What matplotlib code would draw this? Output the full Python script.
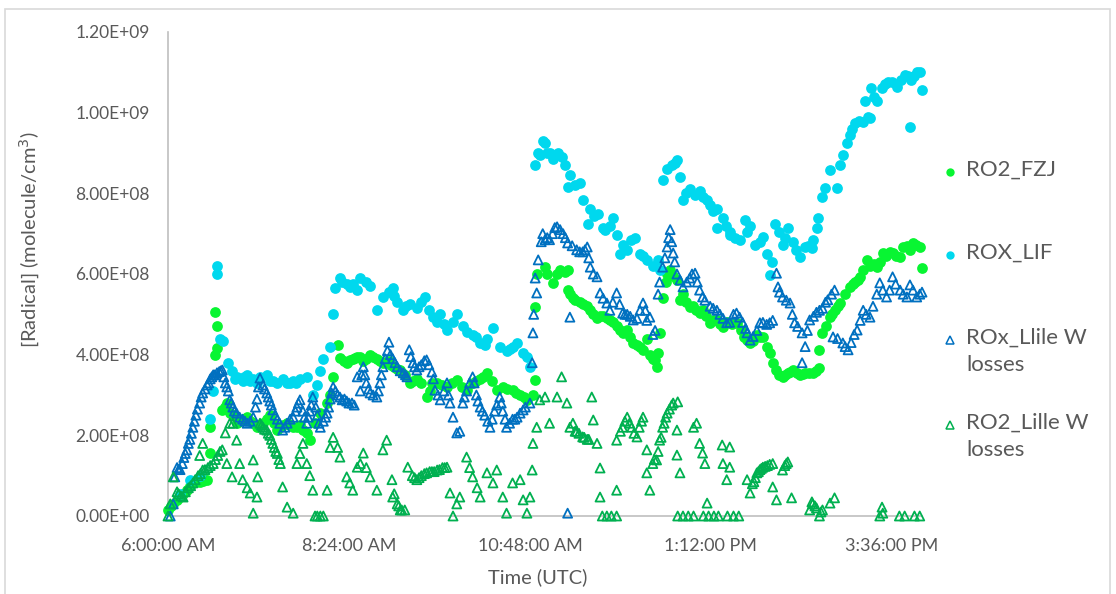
import numpy as np
import matplotlib.pyplot as plt
from matplotlib.lines import Line2D
from matplotlib.patches import Rectangle

plt.rcParams['font.family'] = ['Lato', 'DejaVu Sans']

# (time in decimal hours UTC, value in 1e8 molecule/cm3)
ro2_fzj = [
    (6.00, 0.15), (6.04, 0.25), (6.07, 0.30), (6.12, 0.40), (6.16, 0.47), (6.20, 0.55),
    (6.25, 0.65), (6.29, 0.75), (6.33, 0.82), (6.37, 0.85), (6.42, 0.85), (6.47, 0.88),
    (6.52, 0.90), (6.56, 1.56), (6.56, 2.20), (6.62, 5.06), (6.65, 4.70), (6.65, 4.17),
    (6.62, 4.00), (6.72, 2.63), (6.75, 2.70), (6.78, 2.80), (6.82, 2.55), (6.86, 2.50),
    (6.91, 2.30), (6.95, 2.35), (6.99, 2.40), (7.02, 2.40), (7.05, 2.45), (7.09, 2.35),
    (7.13, 2.30), (7.18, 2.20), (7.22, 2.25), (7.26, 2.30), (7.31, 2.40), (7.35, 2.50),
    (7.41, 2.30), (7.45, 2.13), (7.49, 2.20), (7.52, 2.25), (7.58, 2.30), (7.62, 2.25),
    (7.66, 2.20), (7.71, 2.20), (7.75, 2.25), (7.79, 2.13), (7.84, 2.05), (7.88, 1.88),
    (7.95, 2.30), (8.02, 2.55), (8.11, 2.80), (8.15, 3.00), (8.19, 3.45), (8.25, 4.24),
    (8.28, 3.92), (8.33, 3.85), (8.37, 3.80), (8.41, 3.88), (8.45, 3.90), (8.48, 3.92),
    (8.51, 3.94), (8.55, 3.95), (8.59, 3.85), (8.63, 3.90), (8.68, 4.00), (8.72, 3.95),
    (8.77, 3.90), (8.81, 3.85), (8.85, 3.80), (8.89, 3.82), (8.93, 3.85), (8.96, 3.75),
    (9.00, 3.70), (9.04, 3.65), (9.08, 3.62), (9.11, 3.55), (9.14, 3.50), (9.21, 3.30),
    (9.25, 3.35), (9.30, 3.40), (9.36, 3.30), (9.43, 2.95), (9.47, 3.10), (9.50, 3.30),
    (9.57, 3.30), (9.63, 3.25), (9.70, 3.20), (9.77, 3.30), (9.83, 3.37), (9.90, 3.20),
    (9.96, 3.12), (10.04, 3.30), (10.09, 3.35), (10.14, 3.40), (10.18, 3.45), (10.23, 3.55),
    (10.30, 3.35), (10.36, 3.12), (10.44, 3.20), (10.50, 3.15), (10.57, 3.12), (10.62, 3.05),
    (10.67, 3.00), (10.72, 2.95), (10.76, 2.88), (10.84, 3.00), (10.87, 3.37), (10.87, 5.18),
    (10.89, 6.00), (11.00, 6.17), (11.03, 6.00), (11.10, 5.78), (11.16, 6.00), (11.20, 6.10),
    (11.26, 6.05), (11.30, 6.10), (11.30, 5.60), (11.33, 5.50), (11.37, 5.40), (11.40, 5.35),
    (11.46, 5.30), (11.50, 5.25), (11.56, 5.20), (11.60, 5.10), (11.64, 5.00), (11.69, 4.90),
    (11.73, 4.95), (11.77, 4.95), (11.82, 4.90), (11.86, 4.86), (11.90, 4.80), (11.95, 4.70),
    (11.99, 4.60), (12.03, 4.54), (12.06, 4.55), (12.09, 4.60), (12.13, 4.45), (12.17, 4.30),
    (12.22, 4.25), (12.26, 4.20), (12.30, 4.12), (12.35, 4.40), (12.39, 4.00), (12.43, 3.90),
    (12.48, 3.70), (12.46, 3.87), (12.50, 4.04), (12.52, 4.54), (12.56, 5.40), (12.60, 5.80),
    (12.62, 6.00), (12.66, 6.10), (12.70, 5.95), (12.75, 5.85), (12.79, 5.36), (12.83, 5.50),
    (12.87, 5.30), (12.92, 5.18), (12.96, 5.20), (13.00, 5.10), (13.05, 5.03), (13.09, 5.10),
    (13.14, 4.95), (13.19, 4.79), (13.24, 4.85), (13.28, 4.85), (13.32, 4.75), (13.36, 4.69),
    (13.41, 4.80), (13.48, 4.75), (13.54, 4.79), (13.60, 4.60), (13.64, 4.45), (13.68, 4.36),
    (13.72, 4.29), (13.76, 4.35), (13.81, 4.50), (13.85, 4.45), (13.89, 4.44), (13.94, 4.20),
    (13.98, 4.04), (14.02, 3.80), (14.07, 3.62), (14.11, 3.50), (14.15, 3.45), (14.18, 3.50),
    (14.22, 3.55), (14.25, 3.58), (14.29, 3.62), (14.34, 3.55), (14.38, 3.50), (14.42, 3.52),
    (14.45, 3.55), (14.50, 3.55), (14.55, 3.55), (14.60, 3.60), (14.64, 3.67), (14.64, 4.12),
    (14.68, 4.54), (14.73, 4.70), (14.78, 4.93), (14.81, 5.00), (14.84, 5.10), (14.88, 5.20),
    (14.91, 5.28), (14.98, 5.50), (15.04, 5.68), (15.08, 5.75), (15.11, 5.80), (15.15, 5.85),
    (15.18, 5.93), (15.22, 6.10), (15.27, 6.35), (15.31, 6.20), (15.36, 6.25), (15.40, 6.17),
    (15.44, 6.30), (15.48, 6.52), (15.52, 6.45), (15.57, 6.55), (15.61, 6.52), (15.66, 6.45),
    (15.71, 6.42), (15.75, 6.67), (15.80, 6.70), (15.84, 6.60), (15.88, 6.77), (15.92, 6.72),
    (15.97, 6.67), (16.00, 6.15),
]

rox_lif = [
    (6.16, 0.55), (6.29, 0.90), (6.42, 1.00), (6.56, 2.40), (6.60, 3.10), (6.65, 6.20),
    (6.65, 6.00), (6.69, 4.40), (6.73, 4.35), (6.80, 3.80), (6.85, 3.60), (6.89, 3.40),
    (6.91, 3.45), (6.99, 3.35), (7.01, 3.45), (7.05, 3.50), (7.09, 3.35), (7.13, 3.40),
    (7.18, 3.30), (7.22, 3.45), (7.31, 3.50), (7.35, 3.35), (7.39, 3.35), (7.45, 3.30),
    (7.52, 3.40), (7.58, 3.30), (7.62, 3.30), (7.66, 3.35), (7.70, 3.30), (7.75, 3.40),
    (7.84, 3.45), (7.92, 3.00), (7.98, 3.25), (8.02, 3.60), (8.06, 3.90), (8.15, 4.20),
    (8.19, 5.00), (8.21, 5.65), (8.28, 5.90), (8.31, 5.80), (8.37, 5.75), (8.41, 5.68),
    (8.45, 5.75), (8.51, 5.60), (8.55, 5.90), (8.62, 5.80), (8.68, 5.70), (8.77, 5.10),
    (8.85, 5.43), (8.93, 5.55), (8.98, 5.65), (9.00, 5.45), (9.04, 5.30), (9.12, 5.10),
    (9.16, 5.20), (9.21, 5.25), (9.30, 5.15), (9.36, 5.30), (9.41, 5.43), (9.46, 5.10),
    (9.51, 4.93), (9.57, 4.80), (9.61, 5.00), (9.66, 4.75), (9.70, 4.60), (9.78, 4.80),
    (9.83, 5.00), (9.91, 4.70), (9.96, 4.56), (10.04, 4.50), (10.09, 4.45), (10.14, 4.30),
    (10.20, 4.25), (10.23, 4.40), (10.31, 4.66), (10.40, 4.20), (10.49, 4.10), (10.53, 4.15),
    (10.57, 4.20), (10.63, 4.30), (10.71, 4.05), (10.76, 3.95), (10.80, 3.70),
    (10.87, 8.70), (10.91, 9.00), (10.93, 8.95), (10.97, 9.30), (11.00, 9.25), (11.03, 9.00),
    (11.06, 9.00), (11.10, 8.85), (11.17, 9.00), (11.22, 8.90), (11.26, 8.70), (11.33, 8.45),
    (11.30, 8.15), (11.40, 8.20), (11.46, 8.25), (11.50, 7.83), (11.57, 7.25), (11.60, 7.60),
    (11.65, 7.45), (11.70, 7.50), (11.77, 7.15), (11.80, 7.10), (11.86, 7.20), (11.90, 7.40),
    (11.95, 6.97), (11.99, 6.50), (12.03, 6.72), (12.09, 6.60), (12.14, 6.85), (12.19, 6.90),
    (12.26, 6.50), (12.30, 6.45), (12.35, 6.35), (12.43, 6.20), (12.50, 6.35), (12.52, 6.10),
    (12.56, 8.33), (12.62, 8.60), (12.68, 8.70), (12.72, 8.75), (12.75, 8.83), (12.79, 8.40),
    (12.83, 7.83), (12.87, 8.00), (12.92, 8.10), (12.99, 7.95), (13.05, 8.05), (13.10, 7.90),
    (13.15, 7.83), (13.19, 7.70), (13.23, 7.55), (13.28, 7.60), (13.28, 7.15), (13.36, 7.40),
    (13.40, 7.20), (13.45, 6.97), (13.45, 7.05), (13.52, 6.90), (13.58, 6.85), (13.65, 7.35),
    (13.68, 7.05), (13.72, 7.20), (13.78, 6.72), (13.85, 6.80), (13.89, 6.92), (13.94, 6.50),
    (13.98, 5.98), (14.01, 6.30), (14.05, 7.25), (14.11, 7.05), (14.15, 6.72), (14.18, 6.90),
    (14.22, 7.15), (14.29, 6.80), (14.33, 6.60), (14.38, 6.42), (14.45, 6.67), (14.49, 6.70),
    (14.54, 6.65), (14.55, 6.85), (14.61, 7.15), (14.62, 7.40), (14.68, 7.90), (14.71, 8.13),
    (14.78, 8.58), (14.87, 8.13), (14.91, 8.70), (14.95, 8.95), (15.00, 9.25), (15.04, 9.45),
    (15.07, 9.60), (15.11, 9.75), (15.16, 9.80), (15.22, 9.77), (15.28, 9.90), (15.31, 9.87),
    (15.24, 10.30), (15.33, 10.60), (15.36, 10.40), (15.40, 10.30), (15.47, 10.60), (15.51, 10.70),
    (15.55, 10.76), (15.60, 10.75), (15.67, 10.64), (15.72, 10.80), (15.77, 10.93), (15.81, 10.90),
    (15.86, 10.80), (15.84, 9.65), (15.90, 10.90), (15.94, 11.00), (15.97, 11.00), (16.00, 10.56),
]

rox_lille = [
    (6.03, 0.00), (6.07, 0.30), (6.09, 0.97), (6.12, 1.20), (6.14, 1.15), (6.16, 1.15),
    (6.19, 1.30), (6.21, 1.45), (6.23, 1.55), (6.25, 1.64), (6.27, 1.80), (6.29, 1.90),
    (6.31, 2.05), (6.33, 2.20), (6.35, 2.35), (6.37, 2.50), (6.39, 2.65), (6.42, 2.80),
    (6.44, 2.95), (6.46, 3.05), (6.49, 3.15), (6.52, 3.25), (6.54, 3.30), (6.56, 3.40),
    (6.58, 3.45), (6.60, 3.50), (6.62, 3.50), (6.65, 3.55), (6.68, 3.58), (6.70, 3.60),
    (6.72, 3.62), (6.74, 3.45), (6.76, 3.30), (6.78, 3.20), (6.80, 3.10), (6.82, 2.88),
    (6.84, 2.80), (6.86, 2.70), (6.88, 2.60), (6.91, 2.55), (6.95, 2.45), (6.99, 2.40),
    (7.02, 2.35), (7.05, 2.30), (7.09, 2.35), (7.13, 2.45), (7.16, 2.70), (7.18, 2.90),
    (7.20, 3.20), (7.22, 3.42), (7.26, 3.25), (7.28, 3.15), (7.31, 3.05), (7.33, 2.95),
    (7.35, 2.85), (7.37, 2.75), (7.39, 2.63), (7.42, 2.50), (7.45, 2.40), (7.48, 2.30),
    (7.52, 2.13), (7.55, 2.20), (7.58, 2.30), (7.62, 2.40), (7.66, 2.45), (7.69, 2.60),
    (7.71, 2.70), (7.73, 2.80), (7.75, 2.88), (7.79, 2.60), (7.81, 2.45), (7.84, 2.30),
    (7.86, 2.45), (7.88, 2.60), (7.90, 2.75), (7.92, 2.95), (7.96, 2.70), (7.98, 2.50),
    (8.00, 2.30), (8.02, 2.20), (8.06, 2.35), (8.09, 2.45), (8.11, 2.55), (8.13, 2.70),
    (8.15, 2.90), (8.17, 3.05), (8.19, 3.20), (8.22, 3.10), (8.25, 3.00), (8.28, 2.95),
    (8.31, 2.88), (8.34, 2.90), (8.37, 2.85), (8.40, 2.80), (8.44, 2.80), (8.47, 2.75),
    (8.51, 3.45), (8.55, 3.10), (8.57, 3.50), (8.59, 3.70), (8.61, 3.50), (8.63, 3.30),
    (8.66, 3.15), (8.68, 3.05), (8.72, 3.00), (8.77, 2.95), (8.79, 3.10), (8.81, 3.30),
    (8.83, 3.50), (8.85, 3.70), (8.88, 3.90), (8.91, 4.10), (8.93, 4.31), (8.95, 4.00),
    (8.98, 3.90), (9.01, 3.80), (9.04, 3.70), (9.08, 3.60), (9.12, 3.55), (9.15, 3.50),
    (9.17, 3.45), (9.20, 4.12), (9.22, 3.95), (9.25, 3.80), (9.27, 3.70), (9.30, 3.62),
    (9.33, 3.70), (9.36, 3.75), (9.40, 3.85), (9.43, 3.87), (9.46, 3.75), (9.50, 3.57),
    (9.52, 3.40), (9.54, 3.12), (9.58, 3.00), (9.61, 2.88), (9.66, 3.10), (9.70, 3.30),
    (9.72, 3.00), (9.74, 2.80), (9.78, 2.45), (9.83, 2.06), (9.87, 2.10), (9.91, 2.80),
    (9.93, 2.95), (9.96, 3.10), (10.00, 3.30), (10.04, 3.45), (10.06, 3.30), (10.09, 3.00),
    (10.11, 2.85), (10.14, 2.70), (10.17, 2.60), (10.20, 2.50), (10.24, 2.35), (10.27, 2.20),
    (10.30, 2.40), (10.33, 2.60), (10.36, 2.75), (10.40, 2.95), (10.42, 2.80), (10.44, 2.60),
    (10.47, 2.40), (10.49, 2.20), (10.53, 2.30), (10.57, 2.40), (10.60, 2.40), (10.63, 2.45),
    (10.67, 2.55), (10.71, 2.63), (10.74, 2.70), (10.80, 2.80), (10.83, 3.80), (10.84, 4.54),
    (10.85, 5.00), (10.87, 5.90), (10.89, 5.53), (10.91, 6.35), (10.95, 6.80), (10.97, 7.00),
    (11.00, 6.85), (11.03, 6.90), (11.06, 6.85), (11.10, 7.00), (11.13, 7.15), (11.16, 7.17),
    (11.20, 7.10), (11.24, 7.00), (11.27, 6.90), (11.30, 6.77), (11.33, 4.93), (11.30, 0.07),
    (11.36, 6.70), (11.42, 6.60), (11.46, 6.55), (11.50, 6.55), (11.53, 6.60), (11.56, 6.67),
    (11.58, 6.40), (11.60, 6.17), (11.64, 6.00), (11.69, 5.93), (11.73, 5.53), (11.77, 5.40),
    (11.82, 5.28), (11.86, 5.10), (11.90, 5.30), (11.95, 5.53), (11.99, 5.25), (12.03, 5.03),
    (12.06, 5.00), (12.09, 5.00), (12.13, 4.95), (12.17, 4.86), (12.22, 4.90), (12.26, 5.10),
    (12.30, 5.28), (12.33, 5.10), (12.35, 4.85), (12.39, 4.93), (12.43, 4.50), (12.46, 4.60),
    (12.50, 5.50), (12.52, 5.80), (12.56, 6.17), (12.59, 6.40), (12.62, 6.67), (12.64, 6.90),
    (12.66, 7.10), (12.68, 6.80), (12.70, 6.52), (12.72, 6.30), (12.75, 6.00), (12.79, 5.85),
    (12.83, 5.68), (12.88, 5.80), (12.92, 5.90), (12.95, 6.00), (12.99, 6.02), (13.02, 5.80),
    (13.05, 5.60), (13.09, 5.43), (13.12, 5.35), (13.19, 5.20), (13.23, 5.15), (13.28, 5.10),
    (13.32, 5.00), (13.36, 4.90), (13.41, 4.79), (13.45, 4.80), (13.50, 5.00), (13.54, 5.03),
    (13.58, 4.93), (13.62, 4.80), (13.66, 4.65), (13.68, 4.54), (13.72, 4.36), (13.76, 4.45),
    (13.81, 4.60), (13.85, 4.79), (13.89, 4.80), (13.94, 4.75), (13.98, 4.79), (14.02, 4.85),
    (14.07, 6.02), (14.09, 5.68), (14.11, 5.55), (14.15, 5.43), (14.20, 5.35), (14.25, 5.28),
    (14.28, 5.00), (14.31, 4.79), (14.35, 4.70), (14.41, 4.54), (14.41, 3.80), (14.45, 4.20),
    (14.48, 4.60), (14.51, 4.86), (14.56, 4.95), (14.60, 5.05), (14.64, 5.10), (14.68, 5.15),
    (14.72, 5.30), (14.75, 5.36), (14.80, 5.50), (14.84, 5.60), (14.82, 4.44), (14.88, 4.40),
    (14.95, 4.29), (14.98, 4.20), (15.02, 4.12), (15.06, 4.30), (15.10, 4.50), (15.14, 4.61),
    (15.18, 4.85), (15.22, 5.10), (15.26, 5.00), (15.31, 4.93), (15.35, 5.20), (15.40, 5.50),
    (15.44, 5.78), (15.48, 5.60), (15.53, 5.43), (15.57, 5.60), (15.61, 5.93), (15.65, 5.75),
    (15.71, 5.60), (15.75, 5.50), (15.80, 5.43), (15.84, 5.73), (15.88, 5.60), (15.93, 5.43),
    (15.97, 5.50), (16.00, 5.55),
]

ro2_lille = [
    (6.00, 0.00), (6.03, 0.30), (6.07, 0.97), (6.12, 0.60), (6.14, 0.55), (6.17, 0.50),
    (6.20, 0.47), (6.23, 0.60), (6.27, 0.70), (6.30, 0.75), (6.33, 0.82), (6.36, 0.90),
    (6.40, 1.00), (6.43, 1.05), (6.46, 1.14), (6.46, 1.80), (6.42, 1.50), (6.49, 1.15),
    (6.53, 1.20), (6.56, 1.25), (6.60, 1.30), (6.63, 1.40), (6.66, 1.50), (6.69, 1.60),
    (6.72, 1.64), (6.76, 2.06), (6.82, 2.30), (6.86, 2.30), (6.91, 1.88), (6.95, 1.30),
    (6.78, 1.30), (6.85, 0.97), (6.99, 0.90), (7.05, 0.70), (7.09, 0.57), (7.13, 0.07),
    (7.13, 1.39), (7.18, 0.47), (7.19, 0.97), (7.22, 2.30), (7.24, 2.25), (7.26, 2.20),
    (7.28, 2.15), (7.31, 2.13), (7.33, 2.05), (7.35, 2.00), (7.37, 1.90), (7.39, 1.80),
    (7.41, 1.70), (7.43, 1.60), (7.45, 1.55), (7.47, 1.40), (7.49, 1.30), (7.52, 0.72),
    (7.58, 0.22), (7.66, 0.07), (7.71, 1.30), (7.75, 1.55), (7.79, 1.80), (7.84, 1.30),
    (7.88, 1.00), (7.92, 0.64), (7.95, 0.00), (7.98, 0.00), (8.02, 0.00), (8.06, 0.00),
    (8.11, 0.64), (8.15, 1.70), (8.19, 1.95), (8.25, 1.70), (8.28, 1.46), (8.37, 0.97),
    (8.41, 0.82), (8.45, 0.64), (8.51, 1.21), (8.55, 1.30), (8.59, 1.56), (8.63, 1.20),
    (8.68, 0.97), (8.77, 0.64), (8.85, 1.64), (8.90, 1.88), (8.97, 0.90), (8.98, 0.47),
    (9.00, 0.55), (9.04, 0.30), (9.06, 0.25), (9.08, 0.15), (9.10, 0.15), (9.14, 0.15),
    (9.18, 1.21), (9.24, 1.00), (9.27, 0.95), (9.30, 0.90), (9.33, 0.95), (9.36, 1.00),
    (9.40, 1.05), (9.43, 1.07), (9.47, 1.10), (9.50, 1.10), (9.53, 1.10), (9.57, 1.14),
    (9.60, 1.15), (9.64, 1.20), (9.67, 1.20), (9.70, 1.21), (9.74, 0.57), (9.78, 0.00),
    (9.83, 0.30), (9.87, 0.47), (9.96, 1.46), (10.00, 1.20), (10.04, 0.97), (10.10, 0.70),
    (10.14, 0.47), (10.23, 1.07), (10.31, 0.82), (10.36, 1.14), (10.44, 0.47), (10.49, 0.07),
    (10.57, 0.82), (10.67, 0.90), (10.71, 0.40), (10.76, 0.07), (10.80, 0.47), (10.83, 1.14),
    (10.84, 1.80), (10.89, 2.20), (10.93, 2.88), (11.00, 2.95), (11.06, 2.30), (11.16, 2.95),
    (11.22, 3.45), (11.29, 2.80), (11.33, 2.20), (11.37, 2.30), (11.40, 2.10), (11.42, 2.10),
    (11.45, 2.05), (11.50, 1.96), (11.52, 1.95), (11.56, 1.90), (11.58, 1.90), (11.62, 2.95),
    (11.64, 2.38), (11.69, 1.80), (11.73, 1.19), (11.73, 0.47), (11.76, 0.00), (11.82, 0.00),
    (11.88, 0.00), (11.95, 0.00), (11.95, 0.64), (11.95, 1.88), (12.00, 2.10), (12.03, 2.20),
    (12.06, 2.35), (12.09, 2.45), (12.12, 2.30), (12.15, 2.20), (12.18, 2.05), (12.22, 1.96),
    (12.25, 2.20), (12.28, 2.35), (12.30, 2.45), (12.35, 1.64), (12.35, 1.07), (12.39, 0.64),
    (12.43, 1.30), (12.45, 1.40), (12.48, 1.39), (12.50, 1.60), (12.52, 1.88), (12.54, 1.95),
    (12.56, 2.20), (12.58, 2.30), (12.60, 2.45), (12.62, 2.55), (12.65, 2.65), (12.68, 2.75),
    (12.70, 2.80), (12.75, 2.13), (12.76, 2.83), (12.75, 1.51), (12.79, 1.07), (12.76, 0.00),
    (12.83, 0.00), (12.90, 0.00), (12.97, 0.00), (12.97, 2.20), (13.01, 2.30), (13.05, 1.80),
    (13.09, 1.56), (13.12, 1.30), (13.15, 0.32), (13.10, 0.00), (13.17, 0.00), (13.24, 0.00),
    (13.30, 0.00), (13.35, 1.76), (13.36, 1.30), (13.41, 0.90), (13.45, 1.71), (13.45, 1.21),
    (13.42, 0.00), (13.50, 0.00), (13.57, 0.00), (13.68, 0.90), (13.72, 0.57), (13.75, 0.80),
    (13.77, 0.85), (13.79, 0.95), (13.81, 1.07), (13.83, 1.10), (13.85, 1.15), (13.87, 1.18),
    (13.89, 1.21), (13.92, 1.23), (13.95, 1.25), (13.98, 1.28), (14.02, 1.30), (14.02, 0.72),
    (14.07, 0.40), (14.15, 1.14), (14.18, 1.25), (14.20, 1.30), (14.22, 1.34), (14.27, 0.45),
    (14.51, 0.15), (14.54, 0.35), (14.55, 0.30), (14.58, 0.25), (14.60, 0.20), (14.64, 0.00),
    (14.66, 0.10), (14.68, 0.15), (14.78, 0.32), (14.84, 0.45), (15.47, 0.22), (15.48, 0.07),
    (15.44, 0.00), (15.70, 0.00), (15.77, 0.00), (15.90, 0.00), (15.97, 0.00),
]

x_ticks = [6.0, 8.4, 10.8, 13.2, 15.6]
x_labels = ['6:00:00 AM', '8:24:00 AM', '10:48:00 AM', '1:12:00 PM', '3:36:00 PM']
y_ticks = [0, 2e8, 4e8, 6e8, 8e8, 1e9, 1.2e9]
y_labels = ['0.00E+00', '2.00E+08', '4.00E+08', '6.00E+08', '8.00E+08', '1.00E+09', '1.20E+09']

series = [
    ('RO2_FZJ', ro2_fzj, 'o', '#08F532', True),
    ('ROX_LIF', rox_lif, 'o', '#00D8EE', True),
    ('ROx_Llile W\nlosses', rox_lille, '^', '#0070C0', False),
    ('RO2_Lille W\nlosses', ro2_lille, '^', '#00B050', False),
]

grey = '#595959'
fig = plt.figure(figsize=(11.16, 5.94), dpi=100)
ax = fig.add_axes([168 / 1116, 1 - 516 / 594, 754 / 1116, 484 / 594])

for name, data, mk, col, filled in series:
    d = np.array(data)
    if filled:
        ax.scatter(d[:, 0], d[:, 1] * 1e8, s=60, marker=mk, color=col,
                   linewidths=0, clip_on=False, zorder=3)
    else:
        ax.scatter(d[:, 0], d[:, 1] * 1e8, s=42, marker=mk, facecolors='none',
                   edgecolors=col, linewidths=1.3, clip_on=False, zorder=3)

ax.set_xlim(6.0, 16.0)
ax.set_ylim(0, 1.2e9)
ax.set_xticks(x_ticks)
ax.set_xticklabels(x_labels)
ax.set_yticks(y_ticks)
ax.set_yticklabels(y_labels)
ax.tick_params(length=0, labelsize=12.5, colors=grey)
ax.tick_params(axis='x', pad=16, labelsize=13)
ax.tick_params(axis='y', pad=13)
for s in ['top', 'right']:
    ax.spines[s].set_visible(False)
for s in ['left', 'bottom']:
    ax.spines[s].set_color('#BFBFBF')
    ax.spines[s].set_linewidth(1.2)

fig.text(30 / 1116, 1 - 240 / 594, '[Radical] (molecule/cm$^3$)', rotation=90,
         ha='center', va='center', fontsize=14.5, color=grey)
fig.text(538 / 1116, 1 - 577 / 594, 'Time (UTC)', ha='center', va='center',
         fontsize=14.5, color=grey)

# legend at the right, markers aligned with the first line of each label
rows = [172, 255, 340, 425]
for (name, data, mk, col, filled), ry in zip(series, rows):
    y = 1 - ry / 594
    m = Line2D([950 / 1116], [y], marker=mk, linestyle='none', transform=fig.transFigure,
               markersize=6 if filled else 5.5,
               markerfacecolor=col if filled else 'none', markeredgecolor=col,
               markeredgewidth=0 if filled else 1.1)
    fig.add_artist(m)
    fig.text(966 / 1116, y + 12 / 594, name, ha='left', va='top', fontsize=16,
             color=grey, linespacing=1.45)

fig.add_artist(Rectangle((5 / 1116, -0.02), 1105 / 1116, 1.02 - 9 / 594,
                         transform=fig.transFigure, fill=False,
                         edgecolor='#D9D9D9', linewidth=1.2))

fig.savefig('out.png', dpi=100)
